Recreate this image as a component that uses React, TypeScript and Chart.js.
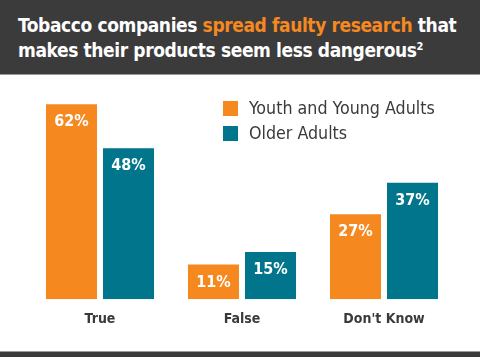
import { useEffect, useRef } from "react";
import { Chart, registerables } from "chart.js";

Chart.register(...registerables);

const categories = ["True", "False", "Don't Know"];
const seriesNames = ["Youth and Young Adults", "Older Adults"];
const youthValues = [62, 11, 27];
const olderValues = [48, 15, 37];

const ORANGE = "#F5891F";
const TEAL = "#00758C";
const DARK = "#3C3B3C";
const TEXT = "#3A3A3A";
const FONT = "'DejaVu Sans Condensed', 'DejaVu Sans', sans-serif";

const valueLabels = {
  id: "valueLabels",
  afterDatasetsDraw(chart: any) {
    const ctx = chart.ctx;
    ctx.save();
    ctx.fillStyle = "#FFFFFF";
    ctx.font = `bold 16px ${FONT}`;
    ctx.textAlign = "center";
    ctx.textBaseline = "middle";
    chart.data.datasets.forEach((ds: any, i: number) => {
      const meta = chart.getDatasetMeta(i);
      meta.data.forEach((bar: any, j: number) => {
        ctx.fillText(`${ds.data[j]}%`, bar.x, bar.y + 18);
      });
    });
    ctx.restore();
  },
};

const boxLegend = {
  id: "boxLegend",
  afterDraw(chart: any) {
    const ctx = chart.ctx;
    ctx.save();
    ctx.font = `17.7px ${FONT}`;
    ctx.textAlign = "left";
    ctx.textBaseline = "middle";
    chart.data.datasets.forEach((ds: any, i: number) => {
      const top = 26 + i * 25;
      ctx.fillStyle = ds.backgroundColor;
      ctx.fillRect(223, top, 15, 15);
      ctx.fillStyle = TEXT;
      ctx.fillText(ds.label, 249, top + 8);
    });
    ctx.restore();
  },
};

export default function App() {
  const ref = useRef<HTMLCanvasElement | null>(null);

  useEffect(() => {
    document.body.style.margin = "0";
    if (!ref.current) return;
    const chart = new Chart(ref.current, {
      type: "bar",
      data: {
        labels: categories,
        datasets: [
          { label: seriesNames[0], data: youthValues, backgroundColor: ORANGE },
          { label: seriesNames[1], data: olderValues, backgroundColor: TEAL },
        ],
      },
      options: {
        responsive: false,
        animation: false,
        layout: { padding: { left: 29, right: 25, top: 4, bottom: 17 } },
        datasets: {
          bar: { categoryPercentage: 0.803, barPercentage: 0.895 },
        },
        plugins: {
          legend: { display: false },
          tooltip: { enabled: false },
        },
        scales: {
          x: {
            grid: { display: false, drawTicks: false },
            border: { display: false },
            ticks: {
              color: TEXT,
              padding: 12,
              font: { family: FONT, size: 14, weight: "bold" },
            },
          },
          y: {
            display: false,
            min: 0,
            max: 70,
          },
        },
      },
      plugins: [valueLabels, boxLegend],
    });
    return () => chart.destroy();
  }, []);

  return (
    <div style={{ position: "relative", width: 480, height: 357, overflow: "hidden", background: "#fff" }}>
      <div
        style={{
          position: "absolute",
          left: 0,
          top: 0,
          width: 480,
          height: 75,
          background: DARK,
          borderBottom: "1px solid #9a9a9a",
          boxSizing: "border-box",
          paddingLeft: 18,
          paddingTop: 13,
          color: "#FFFFFF",
          fontFamily: FONT,
          fontWeight: "bold",
          fontSize: 19,
          letterSpacing: "-0.4px",
          lineHeight: "25px",
          whiteSpace: "nowrap",
        }}
      >
        <div>
          Tobacco companies <span style={{ color: ORANGE }}>spread faulty research</span> that
        </div>
        <div>
          makes their products seem less dangerous
          <sup style={{ fontSize: 11, verticalAlign: "top", lineHeight: "18px" }}>2</sup>
        </div>
      </div>
      <canvas
        ref={ref}
        width={480}
        height={282}
        style={{ position: "absolute", left: 0, top: 75, width: 480, height: 282 }}
      />
      <div
        style={{
          position: "absolute",
          left: 0,
          top: 351,
          width: 480,
          height: 6,
          background: DARK,
          borderTop: "1px solid #9a9a9a",
          boxSizing: "border-box",
        }}
      />
    </div>
  );
}
